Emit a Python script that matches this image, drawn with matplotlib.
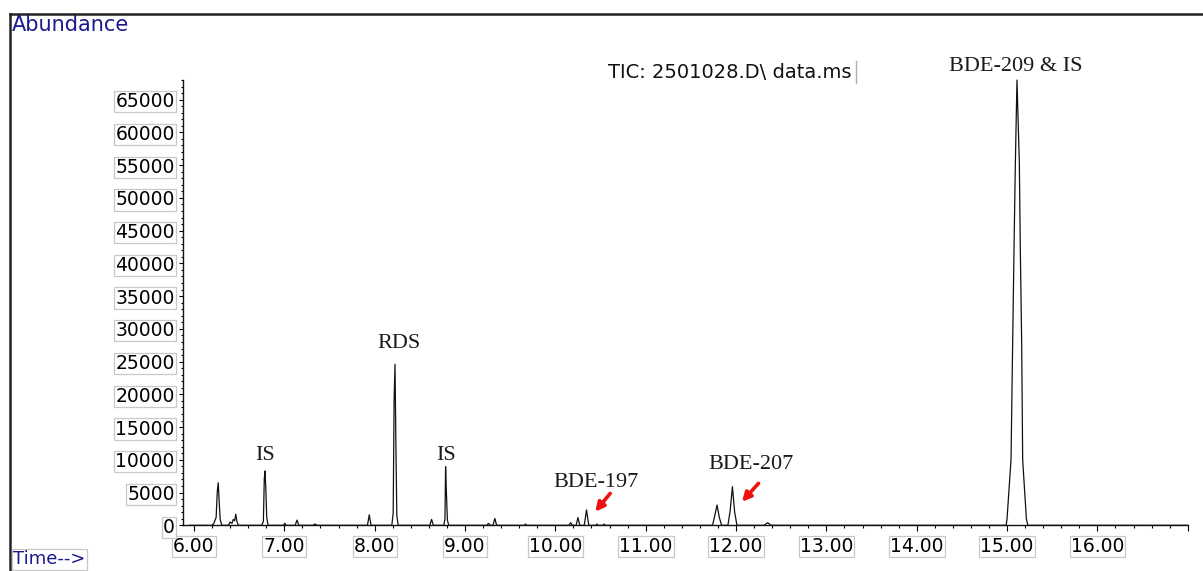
import matplotlib.pyplot as plt
from matplotlib.ticker import MultipleLocator
from matplotlib.lines import Line2D
import numpy as np

# TIC trace: retention time (min) and abundance
times = [5.95, 6.20, 6.22, 6.245, 6.258, 6.268, 6.278, 6.29, 6.305, 6.32,
         6.38, 6.40, 6.42, 6.435, 6.45, 6.462, 6.475, 6.49,
         6.75, 6.768, 6.778, 6.786, 6.795, 6.805, 6.82,
         6.99, 7.005, 7.02, 7.12, 7.14, 7.16, 7.32, 7.34, 7.36,
         7.92, 7.94, 7.96,
         8.19, 8.205, 8.215, 8.225, 8.235, 8.245, 8.26,
         8.61, 8.63, 8.65,
         8.765, 8.778, 8.785, 8.795, 8.805, 8.82,
         9.24, 9.26, 9.28, 9.31, 9.33, 9.35, 9.66, 9.67, 9.68,
         10.15, 10.17, 10.19, 10.23, 10.25, 10.27, 10.32, 10.345, 10.37,
         10.45, 10.46, 10.47, 10.53, 10.54, 10.55,
         11.74, 11.765, 11.79, 11.815, 11.84,
         11.91, 11.935, 11.96, 11.985, 12.01,
         12.31, 12.35, 12.39,
         14.99, 15.00, 15.044, 15.062, 15.077, 15.092, 15.110,
         15.136, 15.147, 15.162, 15.173, 15.214, 15.23, 17.0]
abundance = [0, 0, 300, 1200, 5200, 6500, 3800, 900, 100, 0,
             0, 500, 300, 900, 700, 1700, 600, 0,
             0, 600, 7100, 8300, 5600, 1200, 0,
             0, 300, 0, 0, 800, 0, 0, 200, 0,
             0, 1600, 0,
             0, 1900, 19200, 24600, 12300, 1500, 0,
             0, 900, 0,
             0, 1000, 8950, 4600, 800, 0,
             0, 300, 0, 0, 1050, 0, 0, 200, 0,
             0, 400, 0, 0, 1200, 0, 0, 2350, 0,
             0, 200, 0, 0, 200, 0,
             0, 1500, 3100, 1200, 0,
             0, 2200, 5900, 2000, 0,
             0, 400, 0,
             0, 1000, 10000, 27800, 42000, 55300, 68000,
             55300, 42000, 27800, 10000, 1000, 0, 0]

x_ticks = [6, 7, 8, 9, 10, 11, 12, 13, 14, 15, 16, 17]
x_labels = ['6.00', '7.00', '8.00', '9.00', '10.00', '11.00', '12.00',
            '13.00', '14.00', '15.00', '16.00', '']
y_ticks = list(range(0, 70000, 5000))
y_labels = [str(v) for v in y_ticks]

# peak annotations
peak_names = ['IS', 'RDS', 'IS', 'BDE-197', 'BDE-207', 'BDE-209 & IS']
name_t = [6.786, 8.273, 8.787, 10.445, 12.168, 15.094]
name_a = [10700, 27800, 10700, 6600, 9350, 70100]

# red arrows pointing at the target congeners (tail -> head)
arrow_tail_t = [10.607, 12.249]
arrow_tail_a = [4870, 6410]
arrow_head_t = [10.441, 12.065]
arrow_head_a = [2080, 3600]

fig = plt.figure(figsize=(12.03, 5.71), dpi=100)
ax = fig.add_axes([0.1521, 0.0800, 0.8352, 0.7799])

ax.plot(times, abundance, color='#111111', lw=0.9, clip_on=False)

ax.set_xlim(5.878, 17.0)
ax.set_ylim(0, 68000)

for side in ['top', 'right']:
    ax.spines[side].set_visible(False)
for side in ['left', 'bottom']:
    ax.spines[side].set_linewidth(1.0)
    ax.spines[side].set_color('#111111')

ax.set_xticks(x_ticks)
ax.set_xticklabels(x_labels)
ax.xaxis.set_minor_locator(MultipleLocator(0.2))
ax.set_yticks(y_ticks)
ax.set_yticklabels(y_labels)
ax.yaxis.set_minor_locator(MultipleLocator(1000))

ax.tick_params(axis='x', which='major', direction='out', length=4.5, width=0.8, pad=4, labelsize=13.5)
ax.tick_params(axis='x', which='minor', direction='out', length=2.2, width=0.8)
ax.tick_params(axis='y', which='major', direction='out', length=3, width=0.8, pad=3, labelsize=13.5)
ax.tick_params(axis='y', which='minor', direction='out', length=1.6, width=0.8)

for lab in ax.get_xticklabels() + ax.get_yticklabels():
    lab.set_fontfamily('DejaVu Sans')
    lab.set_bbox(dict(facecolor='white', edgecolor='#c8c8c8', lw=0.9, pad=0.8))

for name, t, a in zip(peak_names, name_t, name_a):
    ax.text(t, a, name, ha='center', va='center', fontsize=16,
            family='Liberation Serif', color='#1a1a1a', clip_on=False)

for t0, a0, t1, a1 in zip(arrow_tail_t, arrow_tail_a, arrow_head_t, arrow_head_a):
    ax.annotate('', xy=(t1, a1), xytext=(t0, a0),
                arrowprops=dict(arrowstyle='-|>', color='#ee1111', lw=2.6,
                                mutation_scale=13, shrinkA=0, shrinkB=0))

# header texts and the outer frame
fig.text(12 / 1203, 1 - 25 / 571, 'Abundance', ha='left', va='center',
         fontsize=15, family='DejaVu Sans', color='#1a1a8c')
fig.text(852 / 1203, 1 - 72 / 571, 'TIC: 2501028.D\\ data.ms', ha='right', va='center',
         fontsize=14, family='DejaVu Sans', color='#111111')
fig.add_artist(Line2D([856 / 1203, 856 / 1203], [1 - 61 / 571, 1 - 83 / 571],
                      color='#b0b0b0', lw=1.0))
fig.text(13 / 1203, 2.5 / 571, 'Time-->', ha='left', va='bottom',
         fontsize=13, family='DejaVu Sans', color='#1a1a8c',
         bbox=dict(facecolor='white', edgecolor='#c8c8c8', lw=0.9, pad=1.0))
fig.add_artist(Line2D([10 / 1203, 1.0], [1 - 14 / 571, 1 - 14 / 571], color='#222222', lw=1.8))
fig.add_artist(Line2D([10 / 1203, 10 / 1203], [1 - 14 / 571, 0.0], color='#222222', lw=1.8))

fig.savefig('out.png', dpi=100)
